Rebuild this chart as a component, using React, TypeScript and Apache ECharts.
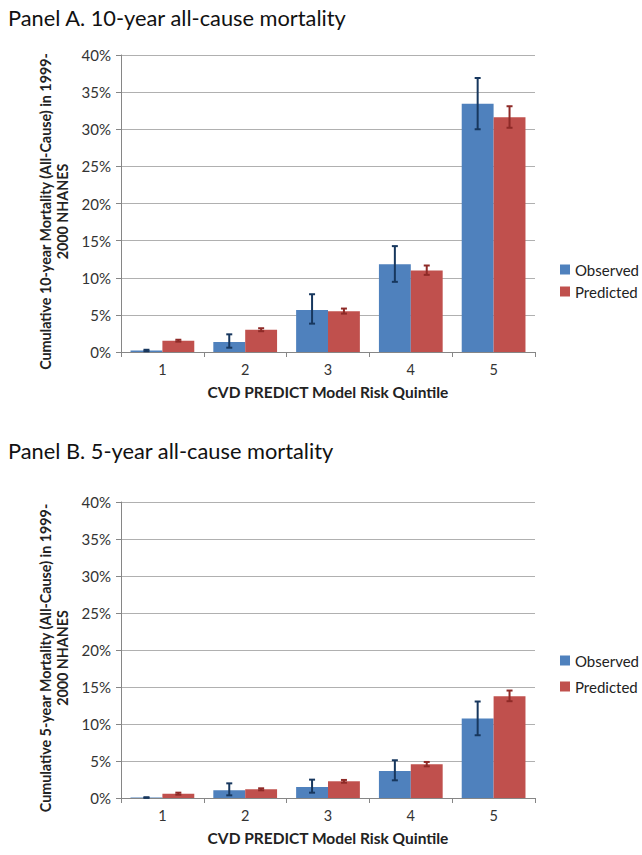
import React, { useEffect, useRef } from "react";
import * as echarts from "echarts";

const categories = ["1", "2", "3", "4", "5"];

// Panel A (10-year), percent
const obsA = [0.2, 1.35, 5.67, 11.83, 33.42];
const obsALow = [0.1, 0.58, 3.82, 9.45, 30.0];
const obsAHigh = [0.3, 2.38, 7.78, 14.26, 36.9];
const predA = [1.53, 3.01, 5.49, 10.98, 31.62];
const predALow = [1.4, 2.8, 5.17, 10.39, 30.2];
const predAHigh = [1.65, 3.2, 5.85, 11.65, 33.1];

// Panel B (5-year), percent
const obsB = [0.06, 1.04, 1.49, 3.65, 10.73];
const obsBLow = [0.02, 0.36, 0.72, 2.39, 8.48];
const obsBHigh = [0.1, 1.98, 2.48, 5.1, 13.04];
const predB = [0.59, 1.17, 2.26, 4.56, 13.76];
const predBLow = [0.45, 1.04, 2.07, 4.28, 13.08];
const predBHigh = [0.72, 1.31, 2.44, 4.87, 14.52];

const titleA = "Panel A. 10-year all-cause mortality";
const titleB = "Panel B. 5-year all-cause mortality";
const yNameA = "Cumulative 10-year Mortality (All-Cause) in 1999-\n2000 NHANES";
const yNameB = "Cumulative 5-year Mortality (All-Cause) in 1999-\n2000 NHANES";
const xName = "CVD PREDICT Model Risk Quintile";

const FONT = "Lato";
const BLUE = "#4F81BD";
const RED = "#C0504D";
const BLUE_ERR = "#17375E";
const RED_ERR = "#8E2A27";
const CAT_GAP = 0.23;

function errData(lo: number[], hi: number[]) {
  return lo.map((l, i) => [i, l, hi[i]]);
}

function errSeries(
  name: string,
  idx: number,
  lo: number[],
  hi: number[],
  side: number,
  color: string
) {
  return {
    type: "custom",
    name,
    xAxisIndex: idx,
    yAxisIndex: idx,
    z: 5,
    silent: true,
    encode: { x: 0, y: [1, 2] },
    data: errData(lo, hi),
    renderItem: (params: any, api: any) => {
      const i = api.value(0);
      const pLo = api.coord([i, api.value(1)]);
      const pHi = api.coord([i, api.value(2)]);
      const band = api.size([1, 0])[0];
      const bw = (band * (1 - CAT_GAP)) / 2;
      const x = pLo[0] + (side * bw) / 2;
      const cap = 3;
      const style = { stroke: color, lineWidth: 2 };
      return {
        type: "group",
        children: [
          { type: "line", shape: { x1: x, y1: pLo[1], x2: x, y2: pHi[1] }, style },
          { type: "line", shape: { x1: x - cap, y1: pHi[1], x2: x + cap, y2: pHi[1] }, style },
          { type: "line", shape: { x1: x - cap, y1: pLo[1], x2: x + cap, y2: pLo[1] }, style },
        ],
      };
    },
  };
}

function axesFor(idx: number, yName: string) {
  const xAxis = {
    type: "category",
    gridIndex: idx,
    data: categories,
    boundaryGap: true,
    axisLine: { lineStyle: { color: "#868686", width: 1 } },
    axisTick: { show: true, length: 5, lineStyle: { color: "#868686" } },
    axisLabel: { color: "#333", fontSize: 14.5, fontFamily: FONT, margin: 10 },
    name: xName,
    nameLocation: "middle",
    nameGap: 32,
    nameTextStyle: { color: "#222", fontSize: 15.5, fontWeight: "bold", fontFamily: FONT },
  };
  const yAxis = {
    type: "value",
    gridIndex: idx,
    min: 0,
    max: 40,
    interval: 5,
    axisLine: { show: true, lineStyle: { color: "#868686", width: 1 } },
    axisTick: { show: true, length: 5, lineStyle: { color: "#868686" } },
    splitLine: { show: true, lineStyle: { color: "#b0b0b0", width: 1 } },
    axisLabel: {
      color: "#333",
      fontSize: 15,
      fontFamily: FONT,
      margin: 10,
      formatter: (v: number) => `${v}%`,
    },
    name: yName,
    nameLocation: "middle",
    nameRotate: 90,
    nameGap: 47,
    nameTextStyle: {
      color: "#222",
      fontSize: 14.3,
      fontWeight: "bold",
      fontFamily: FONT,
      lineHeight: 17,
      align: "center",
      padding: [0, 16, 0, 0],
    },
  };
  return { xAxis, yAxis };
}

function barSeries(name: string, idx: number, data: number[], color: string) {
  return {
    type: "bar",
    name,
    xAxisIndex: idx,
    yAxisIndex: idx,
    data,
    barGap: "0%",
    barCategoryGap: `${CAT_GAP * 100}%`,
    itemStyle: { color },
  };
}

export default function App() {
  const ref = useRef<HTMLDivElement>(null);
  useEffect(() => {
    document.body.style.margin = "0";
    if (!ref.current) return;
    const chart = echarts.init(ref.current, undefined, { renderer: "svg" });
    const a = axesFor(0, yNameA);
    const b = axesFor(1, yNameB);
    chart.setOption({
      animation: false,
      backgroundColor: "#ffffff",
      title: [
        {
          text: titleA,
          left: 8,
          top: 6,
          padding: 0,
          textStyle: { fontSize: 21.8, fontWeight: "normal", color: "#111", fontFamily: FONT },
        },
        {
          text: titleB,
          left: 8,
          top: 439,
          padding: 0,
          textStyle: { fontSize: 21.8, fontWeight: "normal", color: "#111", fontFamily: FONT },
        },
      ],
      legend: [
        {
          orient: "vertical",
          left: 555,
          top: 257,
          itemWidth: 10,
          itemHeight: 10,
          itemGap: 7,
          icon: "rect",
          data: ["Observed", "Predicted"],
          textStyle: { fontSize: 15, color: "#222", fontFamily: FONT },
        },
        {
          orient: "vertical",
          left: 555,
          top: 648,
          itemWidth: 10,
          itemHeight: 10,
          itemGap: 11,
          icon: "rect",
          data: ["Observed", "Predicted"],
          textStyle: { fontSize: 15, color: "#222", fontFamily: FONT },
        },
      ],
      grid: [
        { left: 121, top: 55, width: 414, height: 297 },
        { left: 121, top: 502, width: 414, height: 296 },
      ],
      xAxis: [a.xAxis, b.xAxis],
      yAxis: [a.yAxis, b.yAxis],
      series: [
        barSeries("Observed", 0, obsA, BLUE),
        barSeries("Predicted", 0, predA, RED),
        errSeries("Observed", 0, obsALow, obsAHigh, -1, BLUE_ERR),
        errSeries("Predicted", 0, predALow, predAHigh, 1, RED_ERR),
        barSeries("Observed", 1, obsB, BLUE),
        barSeries("Predicted", 1, predB, RED),
        errSeries("Observed", 1, obsBLow, obsBHigh, -1, BLUE_ERR),
        errSeries("Predicted", 1, predBLow, predBHigh, 1, RED_ERR),
      ],
    });
    return () => chart.dispose();
  }, []);
  return <div ref={ref} style={{ width: 642, height: 855 }} />;
}
